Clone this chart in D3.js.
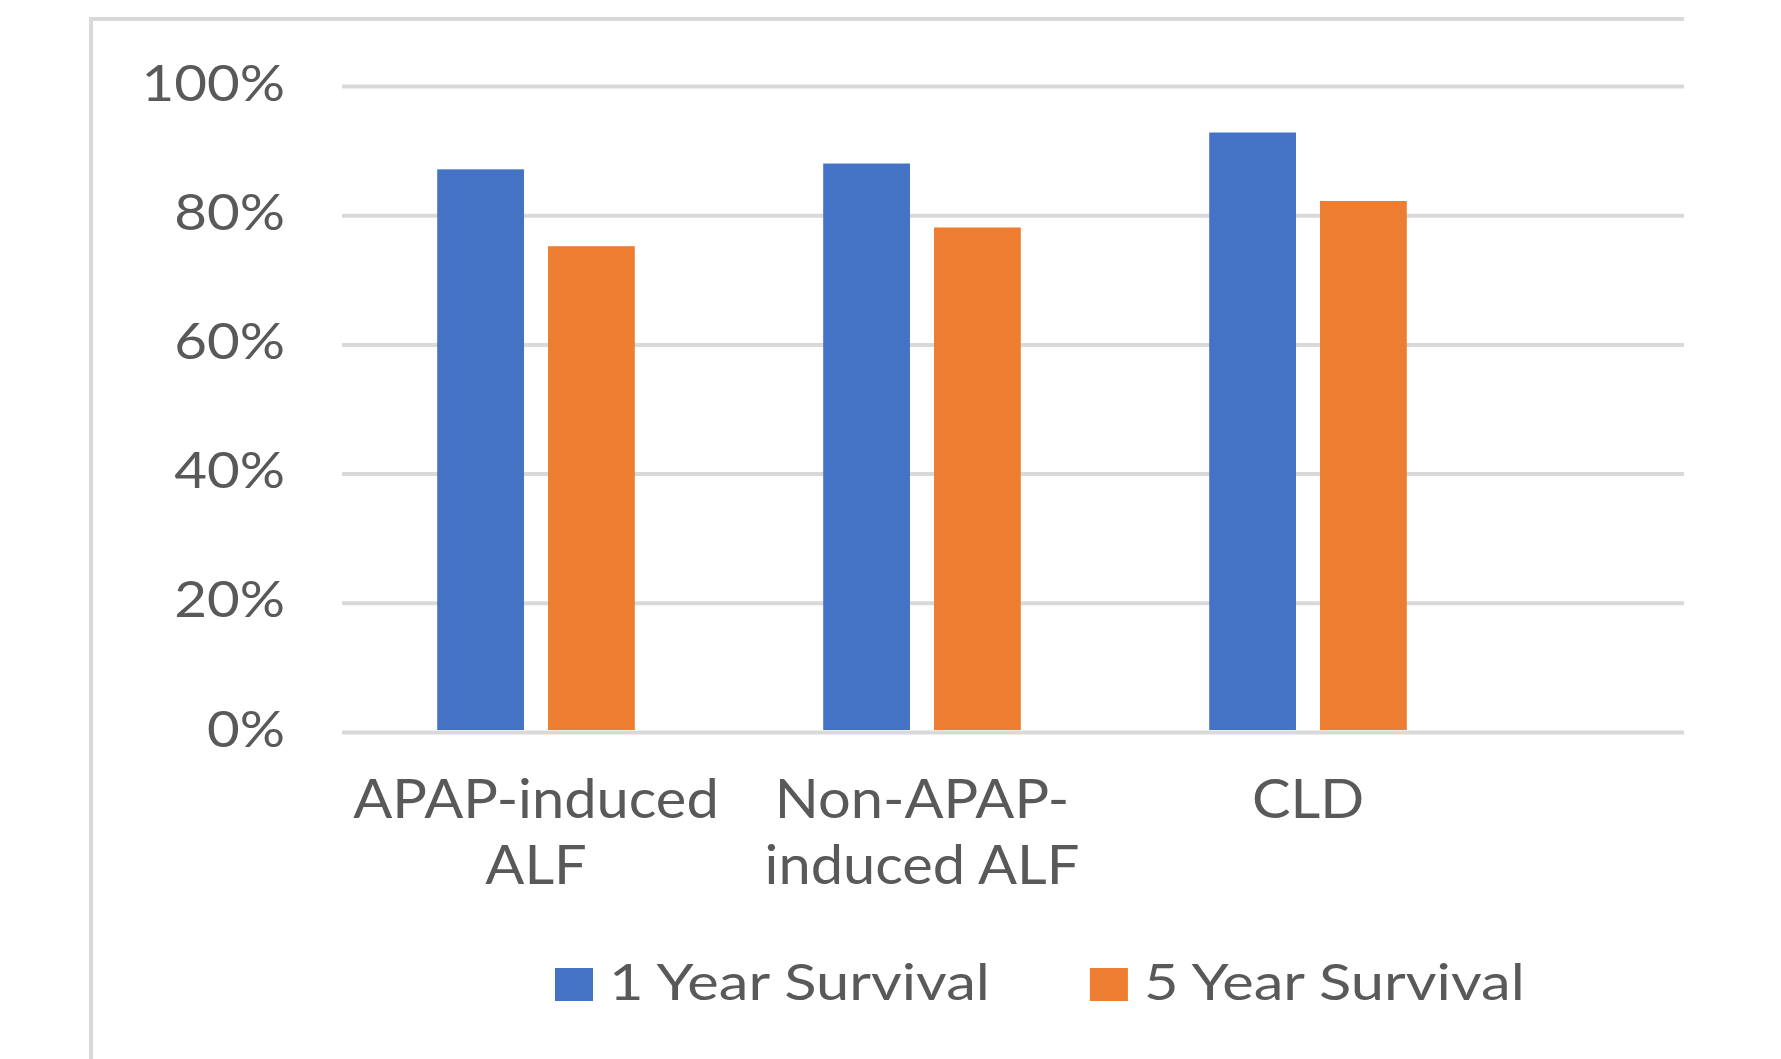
<!DOCTYPE html>
<html>
<head>
<meta charset="utf-8">
<script src="https://cdn.jsdelivr.net/npm/d3@7"></script>
<style>
  body { margin: 0; background: #fff; }
  svg { display: block; font-family: Lato, 'Open Sans', sans-serif; }
</style>
</head>
<body>
<svg id="chart" width="1781" height="1059"></svg>
<script>
const categories = ['APAP-induced ALF', 'Non-APAP-induced ALF', 'CLD'];
const categoryLines = [['APAP-induced', 'ALF'], ['Non-APAP-', 'induced ALF'], ['CLD']];
const seriesNames = ['1 Year Survival', '5 Year Survival'];
const oneYear = [0.871, 0.880, 0.928];
const fiveYear = [0.752, 0.781, 0.822];
const yTicks = [0, 0.2, 0.4, 0.6, 0.8, 1];
const colors = ['#4472c4', '#ed7d31'];

// the source picture is stretched sideways, so text gets widened a little
function stretch(selection, k) {
  selection.each(function () {
    const w = this.getComputedTextLength();
    d3.select(this)
      .attr('textLength', w * k)
      .attr('lengthAdjust', 'spacingAndGlyphs');
  });
}

class BarChart {
  constructor(options = {}) {
    this.svg = options.container || d3.select('svg');
    this.width = options.width || 1781;
    this.height = options.height || 1059;
    this.textColor = '#595959';
    this.gridColor = '#d9d9d9';

    // plot area
    this.left = 342;
    this.right = 1684;
    this.top = 86;
    this.bottom = 732;

    // categories only fill part of the plot width
    this.bandWidth = 386;

    this.x = d3.scaleBand()
      .domain(categories)
      .range([this.left + 1, this.left + 1 + this.bandWidth * categories.length]);
    this.xInner = d3.scaleBand()
      .domain(seriesNames)
      .range([0, this.bandWidth])
      .paddingInner(0.217)
      .paddingOuter(0.85);
    this.y = d3.scaleLinear()
      .domain([0, 1])
      .range([this.bottom, this.top]);
  }

  draw() {
    this.svg.html('');
    this.svg.append('rect')
      .attr('width', this.width)
      .attr('height', this.height)
      .attr('fill', '#fff');
    this.drawFrame();
    this.drawGrid();
    this.drawBars();
    this.drawLabels();
    this.drawLegend();
  }

  drawFrame() {
    this.svg.append('path')
      .attr('d', `M91 ${this.height} L91 19 L${this.right} 19`)
      .attr('fill', 'none')
      .attr('stroke', this.gridColor)
      .attr('stroke-width', 4);
  }

  drawGrid() {
    const axis = d3.axisLeft(this.y)
      .tickValues(yTicks)
      .tickFormat(d3.format('.0%'))
      .tickSize(-(this.right - this.left))
      .tickPadding(57);

    const g = this.svg.append('g')
      .attr('class', 'y-axis')
      .attr('transform', `translate(${this.left},0)`)
      .call(axis);
    g.select('.domain').remove();
    g.selectAll('.tick line')
      .attr('stroke', this.gridColor)
      .attr('stroke-width', 4);
    g.selectAll('.tick text')
      .attr('fill', this.textColor)
      .attr('font-size', 50)
      .attr('dy', '0.28em')
      .attr('font-family', 'Lato, sans-serif')
      .call(stretch, 1.13);
  }

  drawBars() {
    const series = [oneYear, fiveYear];
    this.svg.append('g')
      .attr('class', 'bars')
      .selectAll('g')
      .data(seriesNames)
      .enter()
      .append('g')
      .attr('fill', (d, i) => colors[i])
      .selectAll('rect')
      .data((name, i) => series[i].map((v, j) => ({ name, cat: categories[j], value: v })))
      .enter()
      .append('rect')
      .attr('x', d => this.x(d.cat) + this.xInner(d.name))
      .attr('y', d => this.y(d.value))
      .attr('width', this.xInner.bandwidth())
      .attr('height', d => this.y(0) - this.y(d.value) - 2);
  }

  drawLabels() {
    const lines = [];
    categories.forEach((cat, i) => {
      categoryLines[i].forEach((line, j) => lines.push({ cat, line, row: j }));
    });

    this.svg.append('g')
      .attr('class', 'x-labels')
      .selectAll('text')
      .data(lines)
      .enter()
      .append('text')
      .attr('text-anchor', 'middle')
      .attr('fill', this.textColor)
      .attr('font-size', 54)
      .attr('x', d => this.x(d.cat) + this.x.bandwidth() / 2)
      .attr('y', d => 818 + d.row * 66)
      .text(d => d.line)
      .call(stretch, 1.07);
  }

  drawLegend() {
    const legend = this.svg.append('g').attr('class', 'legend');
    const k = 1.17;
    let offset = 555;
    seriesNames.forEach((name, i) => {
      legend.append('rect')
        .attr('x', offset)
        .attr('y', 968)
        .attr('width', 38)
        .attr('height', 33)
        .attr('fill', colors[i]);
      const label = legend.append('text')
        .attr('x', offset + 54)
        .attr('y', 1000)
        .attr('fill', this.textColor)
        .attr('font-size', 51)
        .text(name);
      const w = label.node().getComputedTextLength();
      label.call(stretch, k);
      offset += 54 + w * k + 100;
    });
  }
}

const chart = new BarChart({ container: d3.select('#chart') });
chart.draw();
</script>
</body>
</html>
